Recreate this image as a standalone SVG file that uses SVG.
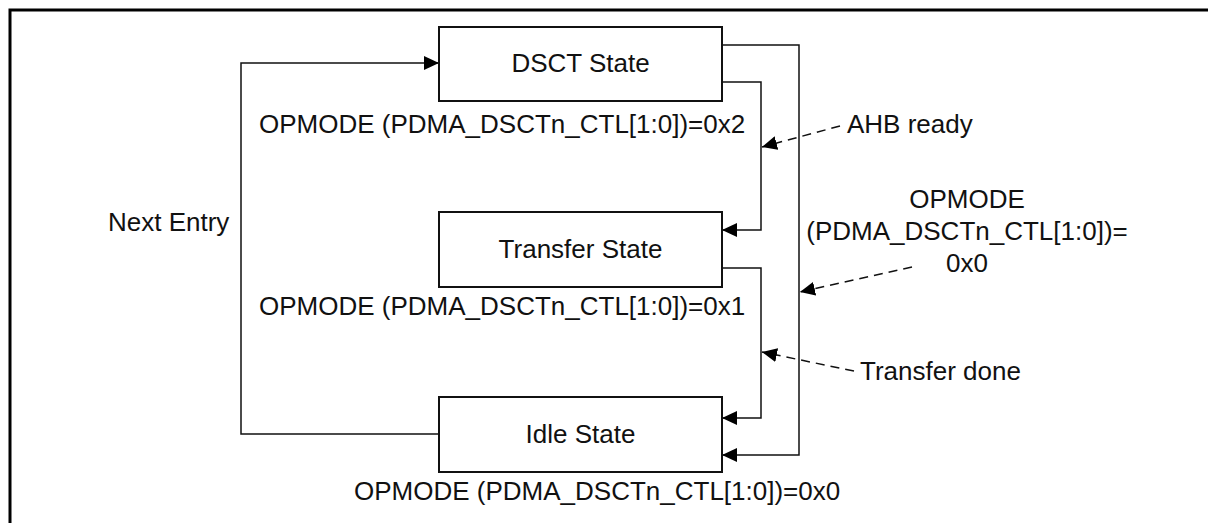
<svg xmlns="http://www.w3.org/2000/svg" width="1208" height="523" viewBox="0 0 1208 523">
<defs>
<style>
.box{fill:#fff;stroke:#111;stroke-width:2}
.t{font-family:"Liberation Sans",Arial,sans-serif;font-size:26px;fill:#111}
.c{fill:none;stroke:#111;stroke-width:1.5}
.d{fill:none;stroke:#111;stroke-width:1.5;stroke-dasharray:9 6}
.frame{fill:none;stroke:#000;stroke-width:3}
</style>
<marker id="ah" markerWidth="16" markerHeight="14" refX="15" refY="7" orient="auto" markerUnits="userSpaceOnUse">
<path d="M0,0 L15,7 L0,14 Z" fill="#000"/>
</marker>
</defs>
<rect width="1208" height="523" fill="#fff"/>
<path class="frame" d="M10,523 V10 H1208"/>
<g id="connectors">
<path class="c" d="M439,434 H241 V63 H439" marker-end="url(#ah)"/>
<path class="c" d="M722,45 H799 V455 H722" marker-end="url(#ah)"/>
<path class="c" d="M722,82 H761 V230 H722" marker-end="url(#ah)"/>
<path class="c" d="M722,268 H761 V418 H722" marker-end="url(#ah)"/>
<path class="d" d="M840,126 L762,147" marker-end="url(#ah)"/>
<path class="d" d="M912,267 L800,292" marker-end="url(#ah)"/>
<path class="d" d="M854,371 L762,352" marker-end="url(#ah)"/>
</g>
<g id="dsct">
<rect class="box" x="439" y="27" width="283" height="74"/>
<text class="t" x="580.5" y="72" text-anchor="middle">DSCT State</text>
<text class="t" x="259" y="133">OPMODE (PDMA_DSCTn_CTL[1:0])=0x2</text>
</g>
<g id="transfer">
<rect class="box" x="439" y="212" width="283" height="75"/>
<text class="t" x="580.5" y="258" text-anchor="middle">Transfer State</text>
<text class="t" x="259" y="315">OPMODE (PDMA_DSCTn_CTL[1:0])=0x1</text>
</g>
<g id="idle">
<rect class="box" x="439" y="397" width="283" height="75"/>
<text class="t" x="580.5" y="443" text-anchor="middle">Idle State</text>
<text class="t" x="354" y="500">OPMODE (PDMA_DSCTn_CTL[1:0])=0x0</text>
</g>
<g id="labels">
<text class="t" x="108" y="231">Next Entry</text>
<text class="t" x="847" y="133">AHB ready</text>
<text class="t" x="967" y="208" text-anchor="middle">OPMODE</text>
<text class="t" x="967" y="240" text-anchor="middle">(PDMA_DSCTn_CTL[1:0])=</text>
<text class="t" x="967" y="272" text-anchor="middle">0x0</text>
<text class="t" x="860" y="380">Transfer done</text>
</g>
</svg>
